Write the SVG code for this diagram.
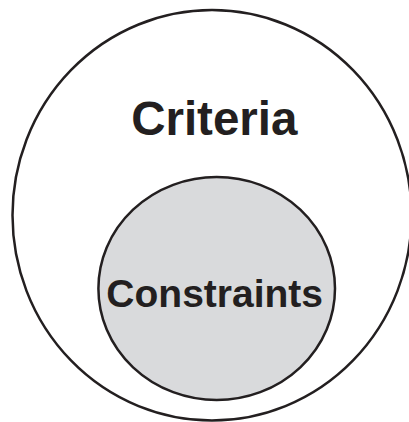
<svg xmlns="http://www.w3.org/2000/svg" width="409" height="422" viewBox="0 0 409 422">
<style>
.ring{fill:none;stroke:#231f20;stroke-width:2.5}
.inner{fill:#d9dadc;stroke:#231f20;stroke-width:2.5}
.lbl{font-family:"Liberation Sans",Arial,sans-serif;font-weight:bold;fill:#231f20;text-anchor:middle}
</style>
<rect width="409" height="422" fill="#ffffff"/>
<g id="criteria">
<ellipse class="ring" cx="212" cy="215.3" rx="199.5" ry="205.2"/>
<text class="lbl" x="214.3" y="135" font-size="47.5">Criteria</text>
</g>
<g id="constraints">
<ellipse class="inner" cx="216.7" cy="288.5" rx="118.3" ry="111.5"/>
<text class="lbl" x="214.7" y="307.3" font-size="39">Constraints</text>
</g>
<g id="connectors"></g>
</svg>
